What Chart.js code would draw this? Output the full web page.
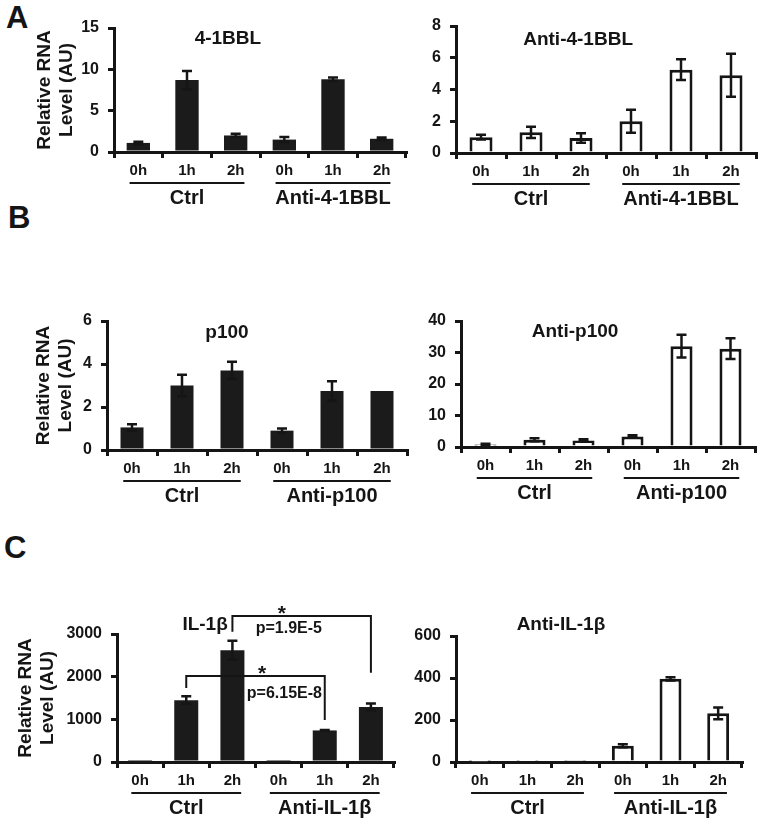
<!DOCTYPE html>
<html>
<head>
<meta charset="utf-8">
<script src="https://cdn.jsdelivr.net/npm/chart.js"></script>
<style>
  body { margin: 0; background: #fff; }
  #wrap { position: relative; width: 762px; height: 823px; overflow: hidden; }
  canvas { position: absolute; }
  .tag { position: absolute; font: bold 31px 'Liberation Sans', Arial, sans-serif; line-height: 30px; color: #151515; }
</style>
</head>
<body>
<div id="wrap">
  <div class="tag" style="left:6px;top:3px">A</div>
  <div class="tag" style="left:8px;top:203px">B</div>
  <div class="tag" style="left:4px;top:533px">C</div>
  <canvas id="bblChart"></canvas>
  <canvas id="antiBblChart"></canvas>
  <canvas id="p100Chart"></canvas>
  <canvas id="antiP100Chart"></canvas>
  <canvas id="il1bChart"></canvas>
  <canvas id="antiIl1bChart"></canvas>
</div>
<script>
// time points, same for every panel
const hours = ['0h', '1h', '2h', '0h', '1h', '2h'];

// relative RNA level (AU) and error
const bbl = [1.1, 8.7, 2.0, 1.5, 8.8, 1.6];
const bblErr = [0.15, 1.1, 0.2, 0.3, 0.2, 0.15];
const antiBbl = [1.0, 1.3, 0.95, 2.0, 5.25, 4.9];
const antiBblErr = [0.15, 0.35, 0.3, 0.73, 0.65, 1.35];

const p100 = [1.05, 3.0, 3.7, 0.9, 2.75, 2.75];
const p100Err = [0.15, 0.5, 0.4, 0.1, 0.45, 0];
const antiP100 = [0.8, 2.3, 2.1, 3.3, 32, 31.2];
const antiP100Err = [0.2, 0.5, 0.4, 0.4, 3.6, 3.3];

const il1b = [3, 1450, 2620, 2, 740, 1290];
const il1bErr = [0, 90, 220, 0, 10, 80];
const antiIl1b = [1, 2, 4, 77, 396, 232];
const antiIl1bErr = [0, 0, 0, 7, 8, 28];

// significance brackets on the IL-1b panel (values in data units)
const il1bPairs = [
  { from: 2, to: 5, top: 3420, leftEnd: 3050, rightEnd: 2090, starAt: 3.07, pAt: 3.94, pY: 3120, p: 'p=1.9E-5' },
  { from: 1, to: 4, top: 2015, leftEnd: 1735, rightEnd: 985, starAt: 2.64, pAt: 3.94, pY: 1595, p: 'p=6.15E-8' }
];

const FONT = "'Liberation Sans', Arial, Helvetica, sans-serif";
const ink = '#151515';
Chart.defaults.font.family = FONT;
Chart.defaults.color = ink;

function makePanel(id, o) {
  const canvas = document.getElementById(id);
  canvas.width = o.box.w;
  canvas.height = o.box.h;
  canvas.style.left = o.box.x + 'px';
  canvas.style.top = o.box.y + 'px';

  // y scale box starts where the axis title should sit
  const scaleLeft = o.yTitle ? o.yTitleLeft : o.area.left - 45;
  const yWidth = o.area.left - scaleLeft;
  const xHeight = 55;

  const decor = {
    id: 'decor',
    afterDatasetsDraw(chart) {
      const ctx = chart.ctx, x = chart.scales.x, y = chart.scales.y;
      ctx.save();
      ctx.strokeStyle = ink;
      ctx.lineWidth = 2.5;
      o.values.forEach((v, i) => {
        const e = o.errors[i];
        if (!e) return;
        const cx = x.getPixelForValue(i);
        const t = y.getPixelForValue(v + e);
        const b = y.getPixelForValue(Math.max(v - e, 0));
        ctx.beginPath();
        ctx.moveTo(cx, t); ctx.lineTo(cx, b);
        ctx.moveTo(cx - 5, t); ctx.lineTo(cx + 5, t);
        ctx.moveTo(cx - 5, b); ctx.lineTo(cx + 5, b);
        ctx.stroke();
      });
      ctx.restore();
    },
    afterDraw(chart) {
      const ctx = chart.ctx, x = chart.scales.x, y = chart.scales.y;
      const a = chart.chartArea;
      ctx.save();
      ctx.fillStyle = ink;
      ctx.strokeStyle = ink;

      // panel title
      ctx.font = 'bold 19px ' + FONT;
      ctx.textAlign = 'center';
      ctx.textBaseline = 'middle';
      ctx.fillText(o.title, a.left + o.titleAt * (a.right - a.left), a.top + o.titleDy);

      // treatment groups under the time labels
      o.groups.forEach(g => {
        ctx.font = 'bold 15px ' + FONT;
        const w0 = ctx.measureText(hours[g.from]).width / 2;
        const w1 = ctx.measureText(hours[g.to]).width / 2;
        const x0 = x.getPixelForValue(g.from) - w0;
        const x1 = x.getPixelForValue(g.to) + w1;
        ctx.lineWidth = 2;
        ctx.beginPath();
        ctx.moveTo(x0, a.bottom + 31);
        ctx.lineTo(x1, a.bottom + 31);
        ctx.stroke();
        ctx.font = 'bold 20px ' + FONT;
        ctx.fillText(g.label, (x0 + x1) / 2, a.bottom + 46);
      });

      // significance brackets
      (o.pairs || []).forEach(p => {
        const xl = x.getPixelForValue(p.from), xr = x.getPixelForValue(p.to);
        const yt = y.getPixelForValue(p.top);
        ctx.lineWidth = 2;
        ctx.beginPath();
        ctx.moveTo(xl, y.getPixelForValue(p.leftEnd));
        ctx.lineTo(xl, yt);
        ctx.lineTo(xr, yt);
        ctx.lineTo(xr, y.getPixelForValue(p.rightEnd));
        ctx.stroke();
        const step = x.getPixelForValue(1) - x.getPixelForValue(0);
        const base = x.getPixelForValue(0);
        ctx.font = 'bold 21px ' + FONT;
        ctx.textAlign = 'center';
        ctx.textBaseline = 'alphabetic';
        ctx.fillText('*', base + step * p.starAt, yt + 4);
        ctx.font = 'bold 16px ' + FONT;
        ctx.textAlign = 'right';
        ctx.textBaseline = 'middle';
        ctx.fillText(p.p, base + step * p.pAt, y.getPixelForValue(p.pY));
      });
      ctx.restore();
    }
  };

  return new Chart(canvas, {
    type: 'bar',
    data: {
      labels: hours,
      datasets: [{
        data: o.values,
        backgroundColor: o.hollow ? '#ffffff' : '#1b1b1b',
        borderColor: ink,
        borderWidth: o.hollow ? 3 : 0,
        categoryPercentage: 1,
        barPercentage: o.barPct
      }]
    },
    options: {
      responsive: false,
      animation: false,
      devicePixelRatio: 1,
      layout: {
        padding: {
          left: scaleLeft - o.box.x,
          top: o.area.top - o.box.y,
          right: o.box.x + o.box.w - o.area.right,
          bottom: o.box.y + o.box.h - o.area.bottom - xHeight
        }
      },
      plugins: { legend: { display: false }, tooltip: { enabled: false } },
      scales: {
        x: {
          afterFit: s => { s.height = xHeight; },
          border: { display: true, color: ink, width: 3 },
          grid: { display: true, drawOnChartArea: false, drawTicks: true, tickLength: 6, color: ink, lineWidth: 3, offset: true },
          ticks: { color: ink, padding: 4, font: { size: 15, weight: 'bold' }, maxRotation: 0, autoSkip: false }
        },
        y: {
          min: 0,
          max: o.max,
          afterFit: s => { s.width = yWidth; },
          border: { display: true, color: ink, width: 3 },
          grid: { display: true, drawOnChartArea: false, drawTicks: true, tickLength: 6, color: ink, lineWidth: 3 },
          ticks: { stepSize: o.step, color: ink, padding: 9, font: { size: 16, weight: 'bold' }, callback: v => String(v) },
          title: {
            display: !!o.yTitle,
            text: ['Relative RNA', 'Level (AU)'],
            color: ink,
            padding: { top: 4, bottom: 0 },
            font: { size: 19, weight: 'bold', lineHeight: 1.16 }
          }
        }
      }
    },
    plugins: [decor]
  });
}

makePanel('bblChart', {
  box: { x: 0, y: 0, w: 420, h: 225 }, area: { left: 114, right: 406, top: 28, bottom: 152 },
  values: bbl, errors: bblErr, max: 15, step: 5, yTitle: true, yTitleLeft: 30, barPct: 0.48,
  title: '4-1BBL', titleAt: 0.39, titleDy: 11,
  groups: [{ label: 'Ctrl', from: 0, to: 2 }, { label: 'Anti-4-1BBL', from: 3, to: 5 }]
});
makePanel('antiBblChart', {
  box: { x: 410, y: 0, w: 352, h: 225 }, area: { left: 456, right: 756, top: 26, bottom: 153 },
  values: antiBbl, errors: antiBblErr, max: 8, step: 2, hollow: true, barPct: 0.46,
  title: 'Anti-4-1BBL', titleAt: 0.407, titleDy: 14,
  groups: [{ label: 'Ctrl', from: 0, to: 2 }, { label: 'Anti-4-1BBL', from: 3, to: 5 }]
});
makePanel('p100Chart', {
  box: { x: 0, y: 225, w: 420, h: 285 }, area: { left: 107, right: 407, top: 321, bottom: 450 },
  values: p100, errors: p100Err, max: 6, step: 2, yTitle: true, yTitleLeft: 29, barPct: 0.46,
  title: 'p100', titleAt: 0.40, titleDy: 12,
  groups: [{ label: 'Ctrl', from: 0, to: 2 }, { label: 'Anti-p100', from: 3, to: 5 }]
});
makePanel('antiP100Chart', {
  box: { x: 410, y: 225, w: 352, h: 285 }, area: { left: 461, right: 755, top: 321, bottom: 447 },
  values: antiP100, errors: antiP100Err, max: 40, step: 10, hollow: true, barPct: 0.45,
  title: 'Anti-p100', titleAt: 0.388, titleDy: 11,
  groups: [{ label: 'Ctrl', from: 0, to: 2 }, { label: 'Anti-p100', from: 3, to: 5 }]
});
makePanel('il1bChart', {
  box: { x: 0, y: 510, w: 420, h: 313 }, area: { left: 117, right: 394, top: 634, bottom: 762 },
  values: il1b, errors: il1bErr, max: 3000, step: 1000, yTitle: true, yTitleLeft: 11, barPct: 0.52,
  title: 'IL-1β', titleAt: 0.318, titleDy: -9, pairs: il1bPairs,
  groups: [{ label: 'Ctrl', from: 0, to: 2 }, { label: 'Anti-IL-1β', from: 3, to: 5 }]
});
makePanel('antiIl1bChart', {
  box: { x: 410, y: 510, w: 352, h: 313 }, area: { left: 456, right: 742, top: 636, bottom: 762 },
  values: antiIl1b, errors: antiIl1bErr, max: 600, step: 200, hollow: true, barPct: 0.46,
  title: 'Anti-IL-1β', titleAt: 0.367, titleDy: -11,
  groups: [{ label: 'Ctrl', from: 0, to: 2 }, { label: 'Anti-IL-1β', from: 3, to: 5 }]
});
</script>
</body>
</html>
